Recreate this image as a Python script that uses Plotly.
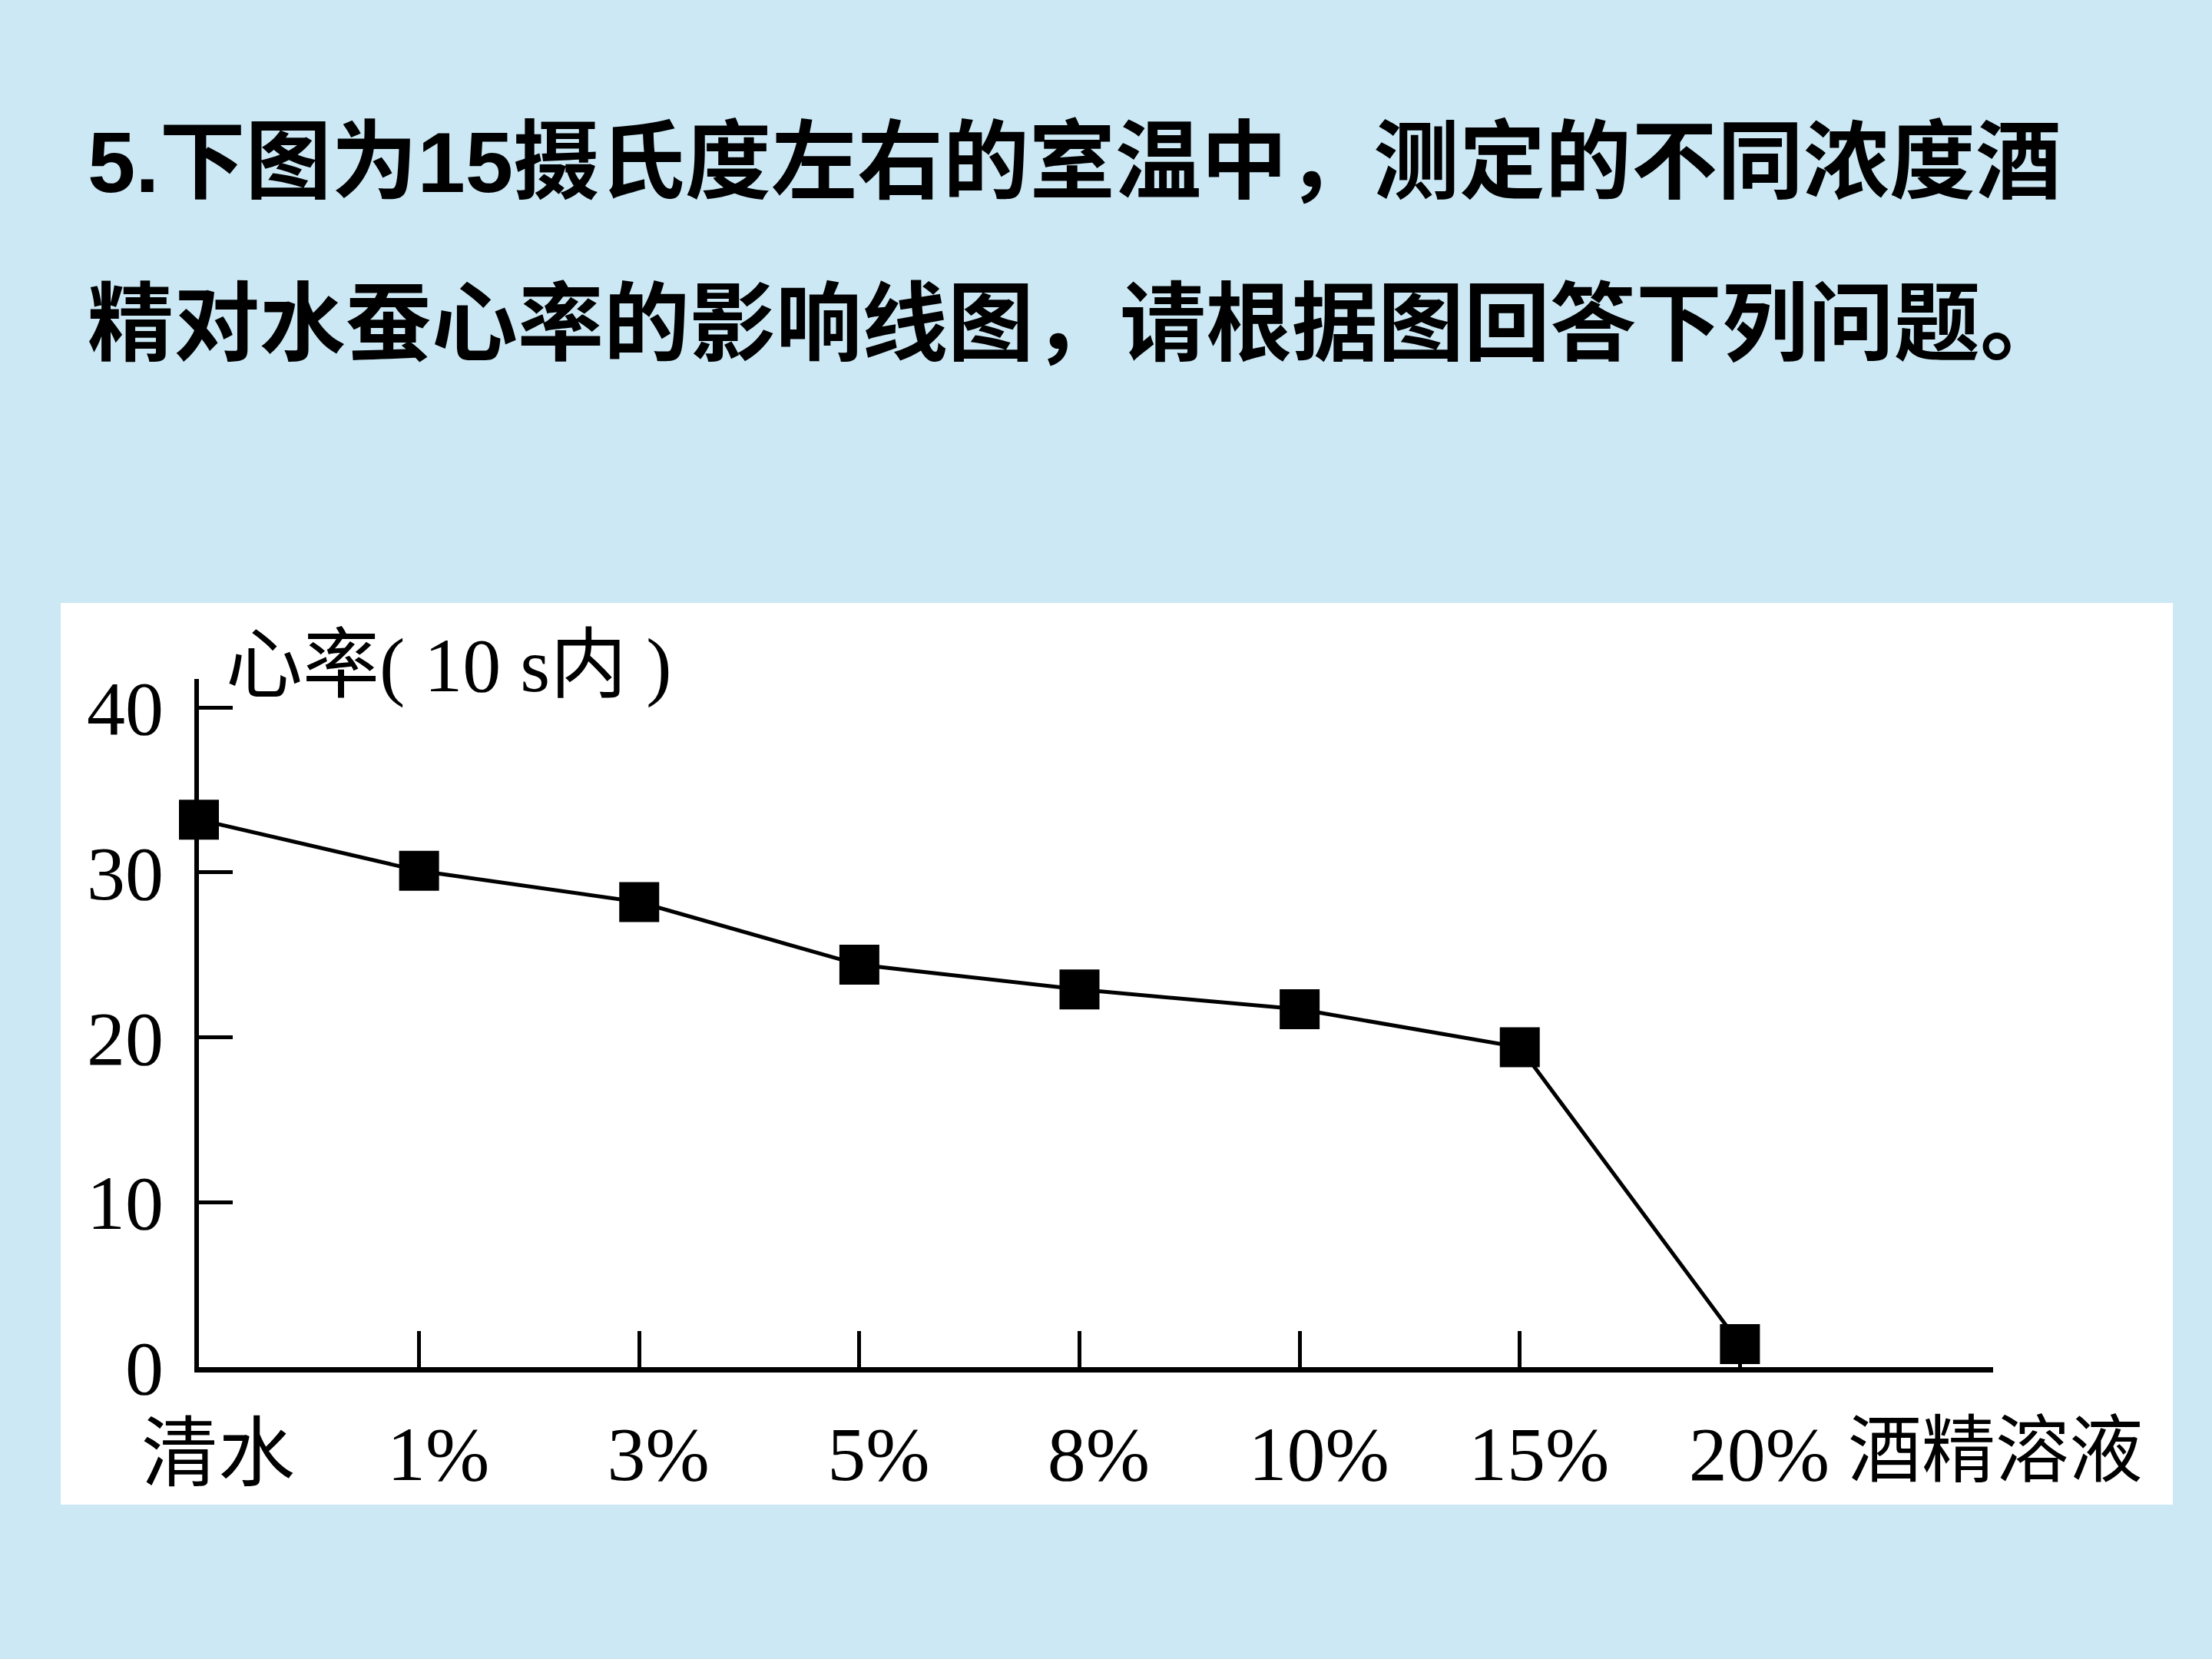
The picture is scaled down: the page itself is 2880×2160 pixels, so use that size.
import plotly.graph_objects as go

# ---- data ----
categories = ["清水", "1%", "3%", "5%", "8%", "10%", "15%", "20%"]
heart_rate = [33.2, 30.1, 28.2, 24.4, 22.9, 21.7, 19.4, 1.4]
y_ticks = [0, 10, 20, 30, 40]
title_line1 = "<b>5.</b>下图为<b>15</b>摄氏度左右的室温中，测定的不同浓度酒"
title_line2 = "精对水蚕心率的影响线图，请根据图回答下列问题。"
y_label = "心率( 10 s内 )"
x_label = "酒精溶液"

W, H = 2880, 2160
BG = "#cbe8f4"
SERIF = "Liberation Serif, Times New Roman, Noto Sans CJK SC"
SANS = "Liberation Sans, Arial, Noto Sans CJK SC"

def px_x(p):
    return p / W

def px_y(p):
    return (H - p) / H

fig = go.Figure()
fig.add_trace(go.Scatter(
    x=categories, y=heart_rate, mode="lines+markers",
    line=dict(color="black", width=5),
    marker=dict(symbol="square", size=52, color="black"),
    cliponaxis=False, showlegend=False,
))

fig.update_layout(
    width=W, height=H,
    margin=dict(l=0, r=0, t=0, b=0, autoexpand=False),
    paper_bgcolor=BG, plot_bgcolor="rgba(0,0,0,0)",
    xaxis=dict(
        domain=[px_x(259), px_x(2595)],
        type="category", range=[0, 8.15],
        automargin=False,
        showline=True, linecolor="black", linewidth=7,
        ticks="inside", ticklen=47, tickwidth=5, tickcolor="black",
        showgrid=False, zeroline=False,
        tickfont=dict(family=SERIF, size=100, color="black"),
        ticklabelshift=25, ticklabelstandoff=20,
    ),
    yaxis=dict(
        domain=[px_y(1780), px_y(884)],
        range=[0, 41.73],
        tickvals=y_ticks,
        automargin=False,
        showline=True, linecolor="black", linewidth=6,
        ticks="inside", ticklen=44, tickwidth=5, tickcolor="black",
        showgrid=False, zeroline=False,
        tickfont=dict(family=SERIF, size=100, color="black"),
        ticklabelstandoff=20,
    ),
    shapes=[dict(
        type="rect", xref="paper", yref="paper", layer="below",
        x0=px_x(79), x1=px_x(2829), y0=px_y(1959), y1=px_y(785),
        fillcolor="white", line=dict(width=0),
    )],
    annotations=[
        dict(text=title_line1,
             xref="paper", yref="paper", x=px_x(112), y=px_y(211),
             xanchor="left", yanchor="middle", showarrow=False,
             font=dict(family=SANS, size=112, color="black", weight="bold")),
        dict(text=title_line2,
             xref="paper", yref="paper", x=px_x(112), y=px_y(423),
             xanchor="left", yanchor="middle", showarrow=False,
             font=dict(family=SANS, size=112, color="black", weight="bold")),
        dict(text=y_label,
             xref="paper", yref="paper", x=px_x(292), y=px_y(866),
             xanchor="left", yanchor="middle", showarrow=False,
             font=dict(family=SERIF, size=100, color="black")),
        dict(text=x_label,
             xref="paper", yref="paper", x=px_x(2404), y=px_y(1888),
             xanchor="left", yanchor="middle", showarrow=False,
             font=dict(family=SERIF, size=96, color="black")),
    ],
)

fig.write_html("out.html")
